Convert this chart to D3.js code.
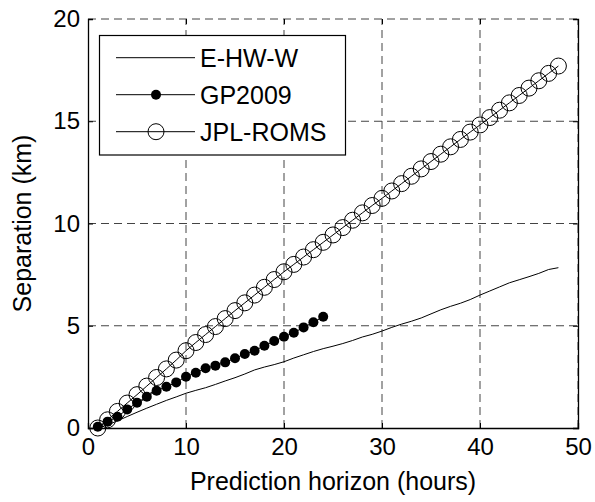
<!DOCTYPE html>
<html>
<head>
<meta charset="utf-8">
<script src="https://cdn.jsdelivr.net/npm/d3@7"></script>
<style>
  body { margin: 0; background: #fff; }
  svg { font-family: "Liberation Sans", Arial, sans-serif; }
</style>
</head>
<body>
<svg width="595" height="502"></svg>
<script>
// hours 1..48
const hours = d3.range(1, 49);

const ehww = [0.00, 0.15, 0.35, 0.56, 0.77, 0.97, 1.16, 1.35, 1.52, 1.70,
  1.84, 1.97, 2.13, 2.30, 2.46, 2.64, 2.84, 2.98, 3.10, 3.24,
  3.42, 3.58, 3.74, 3.88, 4.00, 4.13, 4.28, 4.45, 4.58, 4.74,
  4.92, 5.08, 5.22, 5.38, 5.58, 5.78, 5.95, 6.10, 6.28, 6.50,
  6.70, 6.90, 7.10, 7.25, 7.40, 7.56, 7.75, 7.84];

const gp2009 = [0.06, 0.31, 0.55, 0.91, 1.24, 1.53, 1.82, 2.02, 2.23, 2.51,
  2.70, 2.92, 3.05, 3.21, 3.41, 3.62, 3.78, 4.02, 4.25, 4.46,
  4.66, 4.92, 5.17, 5.44];

const jplroms = [0.00, 0.40, 0.81, 1.22, 1.63, 2.05, 2.47, 2.89, 3.32, 3.78,
  4.18, 4.57, 4.96, 5.35, 5.74, 6.12, 6.50, 6.88, 7.26, 7.64,
  8.00, 8.36, 8.72, 9.08, 9.44, 9.80, 10.16, 10.52, 10.88, 11.23,
  11.59, 11.95, 12.31, 12.67, 13.03, 13.39, 13.75, 14.11, 14.47, 14.82,
  15.18, 15.54, 15.90, 16.26, 16.62, 16.98, 17.34, 17.70];

const xTicks = [0, 10, 20, 30, 40, 50];
const yTicks = [0, 5, 10, 15, 20];
const legendNames = ["E-HW-W", "GP2009", "JPL-ROMS"];

const svg = d3.select("svg");
const pLeft = 88, pRight = 578, pTop = 19, pBottom = 428;
const fs = 24;

const x = d3.scaleLinear().domain([0, 50]).range([pLeft, pRight]);
const y = d3.scaleLinear().domain([0, 20]).range([pBottom, pTop]);

// grid
const grid = svg.append("g")
  .attr("stroke", "#444").attr("stroke-width", 1).attr("stroke-dasharray", "8,5");
grid.selectAll("line.gx").data(xTicks.slice(1)).enter().append("line")
  .attr("x1", d => x(d)).attr("x2", d => x(d)).attr("y1", pBottom).attr("y2", pTop);
grid.selectAll("line.gy").data(yTicks.slice(1)).enter().append("line")
  .attr("x1", pLeft).attr("x2", pRight).attr("y1", d => y(d)).attr("y2", d => y(d));

// axes with inward ticks
const xAxis = d3.axisBottom(x).tickValues(xTicks).tickSize(-5).tickPadding(10);
const yAxis = d3.axisLeft(y).tickValues(yTicks).tickSize(-5).tickPadding(8);

const gX = svg.append("g").attr("transform", `translate(0,${pBottom})`).call(xAxis);
const gY = svg.append("g").attr("transform", `translate(${pLeft},0)`).call(yAxis);
const gR = svg.append("g").attr("transform", `translate(${pRight},0)`)
  .call(d3.axisRight(y).tickValues(yTicks).tickSize(-5).tickFormat(""));
const gT = svg.append("g").attr("transform", `translate(0,${pTop})`)
  .call(d3.axisTop(x).tickValues(xTicks).tickSize(-5).tickFormat(""));
gT.select(".domain").remove();

[gX, gY, gR, gT].forEach(g => {
  g.selectAll(".domain").attr("stroke", "#000").attr("stroke-width", 1.3);
  g.selectAll(".tick line").attr("stroke", "#000");
  g.selectAll("text").attr("font-size", fs).attr("fill", "#000")
    .attr("font-family", "Liberation Sans, Arial, sans-serif");
});

// series
const line = d3.line().x((d, i) => x(hours[i])).y(d => y(d));

svg.append("path").datum(ehww).attr("d", line)
  .attr("fill", "none").attr("stroke", "#000").attr("stroke-width", 1);

svg.append("path").datum(jplroms).attr("d", line)
  .attr("fill", "none").attr("stroke", "#000").attr("stroke-width", 1);
svg.append("g").selectAll("circle").data(jplroms).enter().append("circle")
  .attr("cx", (d, i) => x(hours[i])).attr("cy", d => y(d)).attr("r", 8)
  .attr("fill", "none").attr("stroke", "#000").attr("stroke-width", 1);

svg.append("path").datum(gp2009).attr("d", line)
  .attr("fill", "none").attr("stroke", "#000").attr("stroke-width", 1);
svg.append("g").selectAll("circle").data(gp2009).enter().append("circle")
  .attr("cx", (d, i) => x(hours[i])).attr("cy", d => y(d)).attr("r", 5)
  .attr("fill", "#000");

// axis titles
svg.append("text").attr("x", (pLeft + pRight) / 2).attr("y", 490)
  .attr("text-anchor", "middle").attr("font-size", 25)
  .text("Prediction horizon (hours)");
svg.append("text").attr("transform", `translate(31,${(pTop + pBottom) / 2}) rotate(-90)`)
  .attr("text-anchor", "middle").attr("font-size", 25)
  .text("Separation (km)");

// legend
const lg = svg.append("g");
lg.append("rect").attr("x", 99.5).attr("y", 35.5).attr("width", 246).attr("height", 119.5)
  .attr("fill", "#fff").attr("stroke", "#000").attr("stroke-width", 1.2);
const rows = lg.selectAll("g.row").data(legendNames).enter().append("g")
  .attr("transform", (d, i) => `translate(0,${57.7 + i * 37})`);
rows.append("line").attr("x1", 116).attr("x2", 195)
  .attr("stroke", "#000").attr("stroke-width", 1);
rows.filter((d, i) => i === 1).append("circle").attr("cx", 156).attr("r", 5).attr("fill", "#000");
rows.filter((d, i) => i === 2).append("circle").attr("cx", 156).attr("r", 8)
  .attr("fill", "none").attr("stroke", "#000");
rows.append("text").attr("x", 200).attr("dy", "0.36em").attr("font-size", 25).text(d => d);
</script>
</body>
</html>
